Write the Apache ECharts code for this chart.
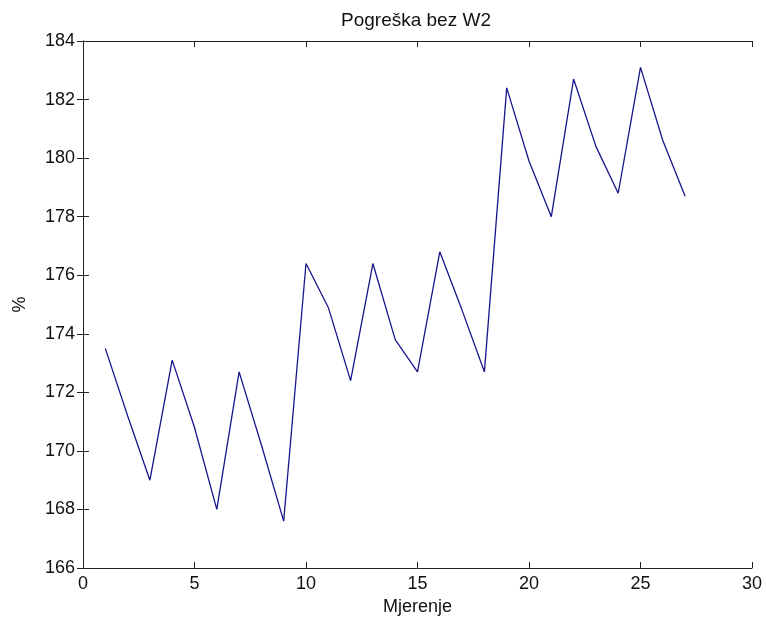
<!DOCTYPE html>
<html>
<head>
<meta charset="utf-8">
<script src="https://cdn.jsdelivr.net/npm/echarts@6/dist/echarts.min.js"></script>
<style>
	html, body { margin: 0; padding: 0; background: #fff; }
	#chart { width: 766px; height: 628px; }
</style>
</head>
<body>
<div id="chart"></div>
<script type="text/javascript">
	// mjerenja (x) i pogreška u % (y)
	var mjerenja = [1, 2, 3, 4, 5, 6, 7, 8, 9, 10, 11, 12, 13, 14, 15, 16, 17, 18, 19, 20, 21, 22, 23, 24, 25, 26, 27];
	var pogreska = [173.5, 171.2, 169.0, 173.1, 170.8, 168.0, 172.7, 170.2, 167.6, 176.4, 174.9, 172.4, 176.4, 173.8, 172.7, 176.8, 174.8, 172.7, 182.4, 179.9, 178.0, 182.7, 180.4, 178.8, 183.1, 180.6, 178.7];

	var points = [];
	for (var i = 0; i < mjerenja.length; i++) {
		points.push([mjerenja[i], pogreska[i]]);
	}

	var font = 'Liberation Sans, Arial, sans-serif';
	var axisLine = {show: true, lineStyle: {color: '#222', width: 1}};
	var tick = {show: true, inside: true, length: 6, lineStyle: {color: '#222'}};

	var chart = echarts.init(document.getElementById('chart'));
	chart.setOption({
		animation: false,
		title: {
			// naslov centriran iznad grafa, ne iznad cijele slike
			text: 'Pogreška bez W2',
			left: 336,
			top: 6,
			textStyle: {fontFamily: font, fontSize: 19, fontWeight: 'normal', color: '#111'}
		},
		grid: {left: 83, right: 14, top: 41, bottom: 60},
		xAxis: [{
			type: 'value', min: 0, max: 30, interval: 5,
			axisLine: axisLine, axisTick: tick, splitLine: {show: false},
			axisLabel: {fontFamily: font, fontSize: 18, color: '#111', margin: 7},
			name: 'Mjerenje', nameLocation: 'middle', nameGap: 28,
			nameTextStyle: {fontFamily: font, fontSize: 18, color: '#111'}
		}, {
			type: 'value', position: 'top', min: 0, max: 30, interval: 5,
			axisLine: axisLine, axisTick: tick, splitLine: {show: false},
			axisLabel: {show: false}
		}],
		yAxis: [{
			type: 'value', min: 166, max: 184, interval: 2,
			axisLine: axisLine, axisTick: tick, splitLine: {show: false},
			axisLabel: {fontFamily: font, fontSize: 18, color: '#111', margin: 8},
			name: '%', nameLocation: 'middle', nameGap: 54, nameRotate: 90,
			nameTextStyle: {fontFamily: font, fontSize: 18, color: '#111'}
		}, {
			type: 'value', position: 'right', min: 166, max: 184, interval: 2,
			axisLine: axisLine, axisTick: tick, splitLine: {show: false},
			axisLabel: {show: false}
		}],
		series: [{
			type: 'line',
			data: points,
			showSymbol: false,
			lineStyle: {color: '#16168a', width: 1.3},
			itemStyle: {color: '#16168a'}
		}]
	});
</script>
</body>
</html>
